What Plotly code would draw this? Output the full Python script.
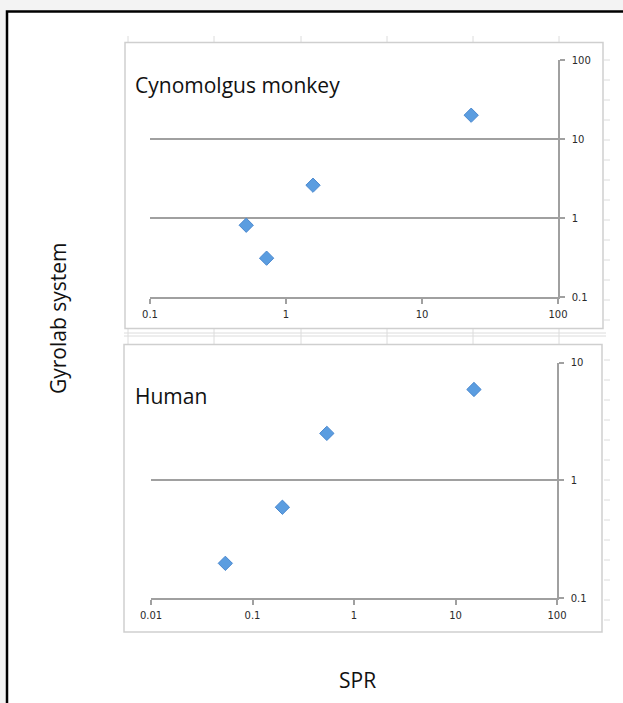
import plotly.graph_objects as go

W, H = 623, 703

# Data
cyno_spr = [0.51, 0.72, 1.58, 23.0]
cyno_gyrolab = [0.81, 0.31, 2.6, 20.0]
human_spr = [0.054, 0.197, 0.54, 15.2]
human_gyrolab = [0.197, 0.59, 2.5, 5.9]

top_x_ticks = [0.1, 1, 10, 100]
top_x_labels = ["0.1", "1", "10", "100"]
top_y_ticks = [0.1, 1, 10, 100]
top_y_labels = ["0.1", "1", "10", "100"]
bot_x_ticks = [0.01, 0.1, 1, 10, 100]
bot_x_labels = ["0.01", "0.1", "1", "10", "100"]
bot_y_ticks = [0.1, 1, 10]
bot_y_labels = ["0.1", "1", "10"]


def px(x):
    return x / W


def py(y):
    return 1 - y / H


marker = dict(symbol="diamond", size=11, color="#5b9de0",
              line=dict(color="#4a88cf", width=1))

fig = go.Figure()
fig.add_trace(go.Scatter(x=cyno_spr, y=cyno_gyrolab, mode="markers",
                         marker=marker, xaxis="x", yaxis="y", showlegend=False))
fig.add_trace(go.Scatter(x=human_spr, y=human_gyrolab, mode="markers",
                         marker=marker, xaxis="x2", yaxis="y2", showlegend=False))

axcol = "#a0a0a0"
tickfont = dict(family="DejaVu Sans", size=10, color="#2a2a2a")

common_x = dict(type="log", showgrid=False, showline=True, linecolor=axcol,
                linewidth=1.5, ticks="outside", ticklen=5, tickcolor=axcol,
                tickwidth=1.5, tickfont=tickfont, zeroline=False,
                ticklabelstandoff=2, fixedrange=True, automargin=False)
common_y = dict(type="log", showgrid=True, gridcolor=axcol, gridwidth=1.5,
                showline=True, linecolor=axcol, linewidth=1.5, ticks="outside",
                ticklen=5, tickcolor=axcol, tickwidth=1.5, side="right",
                tickfont=tickfont, zeroline=False, ticklabelstandoff=5,
                fixedrange=True, automargin=False)

fig.update_layout(
    template="none",
    width=W, height=H,
    margin=dict(l=0, r=0, t=0, b=0, pad=0, autoexpand=False),
    paper_bgcolor="#f3f3f3",
    plot_bgcolor="white",
    hovermode=False,
    xaxis=dict(common_x, range=[-1, 2], domain=[px(150), px(558)], anchor="y",
               tickvals=top_x_ticks, ticktext=top_x_labels),
    yaxis=dict(common_y, range=[-1, 2], domain=[py(297), py(60)], anchor="x",
               tickvals=top_y_ticks, ticktext=top_y_labels),
    xaxis2=dict(common_x, range=[-2, 2], domain=[px(151), px(557)], anchor="y2",
                tickvals=bot_x_ticks, ticktext=bot_x_labels),
    yaxis2=dict(common_y, range=[-1, 1], domain=[py(598), py(362.5)], anchor="x2",
                tickvals=bot_y_ticks, ticktext=bot_y_labels),
)

shapes = []
# page area with black border
shapes.append(dict(type="rect", xref="paper", yref="paper", layer="below",
                   x0=px(7), x1=px(630), y0=py(712), y1=py(11.5),
                   fillcolor="white", line=dict(color="black", width=2.5)))
# faint spreadsheet cell lines
cellcol = "#dcdcdc"
for cx in [128, 214, 301, 387, 473, 559]:
    shapes.append(dict(type="line", xref="paper", yref="paper", layer="below",
                       x0=px(cx), x1=px(cx), y0=py(42), y1=py(36),
                       line=dict(color=cellcol, width=1)))
    shapes.append(dict(type="line", xref="paper", yref="paper", layer="below",
                       x0=px(cx), x1=px(cx), y0=py(344), y1=py(329),
                       line=dict(color=cellcol, width=1)))
for cy in [333, 336]:
    shapes.append(dict(type="line", xref="paper", yref="paper", layer="below",
                       x0=px(124), x1=px(606), y0=py(cy), y1=py(cy),
                       line=dict(color=cellcol, width=1)))
for cy in range(60, 640, 20):
    if 329 < cy < 344:
        continue
    shapes.append(dict(type="line", xref="paper", yref="paper", layer="below",
                       x0=px(604), x1=px(610), y0=py(cy), y1=py(cy),
                       line=dict(color=cellcol, width=1)))
# chart boxes
shapes.append(dict(type="rect", xref="paper", yref="paper", layer="below",
                   x0=px(125), x1=px(603), y0=py(328.5), y1=py(42.5),
                   fillcolor="white", line=dict(color="#cfcfcf", width=1.5)))
shapes.append(dict(type="rect", xref="paper", yref="paper", layer="below",
                   x0=px(124), x1=px(602), y0=py(632), y1=py(344.5),
                   fillcolor="white", line=dict(color="#cfcfcf", width=1.5)))
fig.update_layout(shapes=shapes)

lab_font = dict(family="Open Sans", size=21, color="#111111")
fig.add_annotation(text="Cynomolgus monkey", xref="paper", yref="paper",
                   x=px(133), y=py(85), xanchor="left", yanchor="middle",
                   showarrow=False, font=lab_font)
fig.add_annotation(text="Human", xref="paper", yref="paper",
                   x=px(133), y=py(396), xanchor="left", yanchor="middle",
                   showarrow=False, font=lab_font)
fig.add_annotation(text="Gyrolab system", xref="paper", yref="paper",
                   x=px(58), y=py(318), xanchor="center", yanchor="middle",
                   textangle=-90, showarrow=False,
                   font=dict(family="Open Sans", size=21, color="#111111"))
fig.add_annotation(text="SPR", xref="paper", yref="paper",
                   x=px(357), y=py(680), xanchor="center", yanchor="middle",
                   showarrow=False,
                   font=dict(family="Open Sans", size=21, color="#111111"))

fig.write_html("out.html", post_script="document.body.style.margin='0';",
               config={"displayModeBar": False})
